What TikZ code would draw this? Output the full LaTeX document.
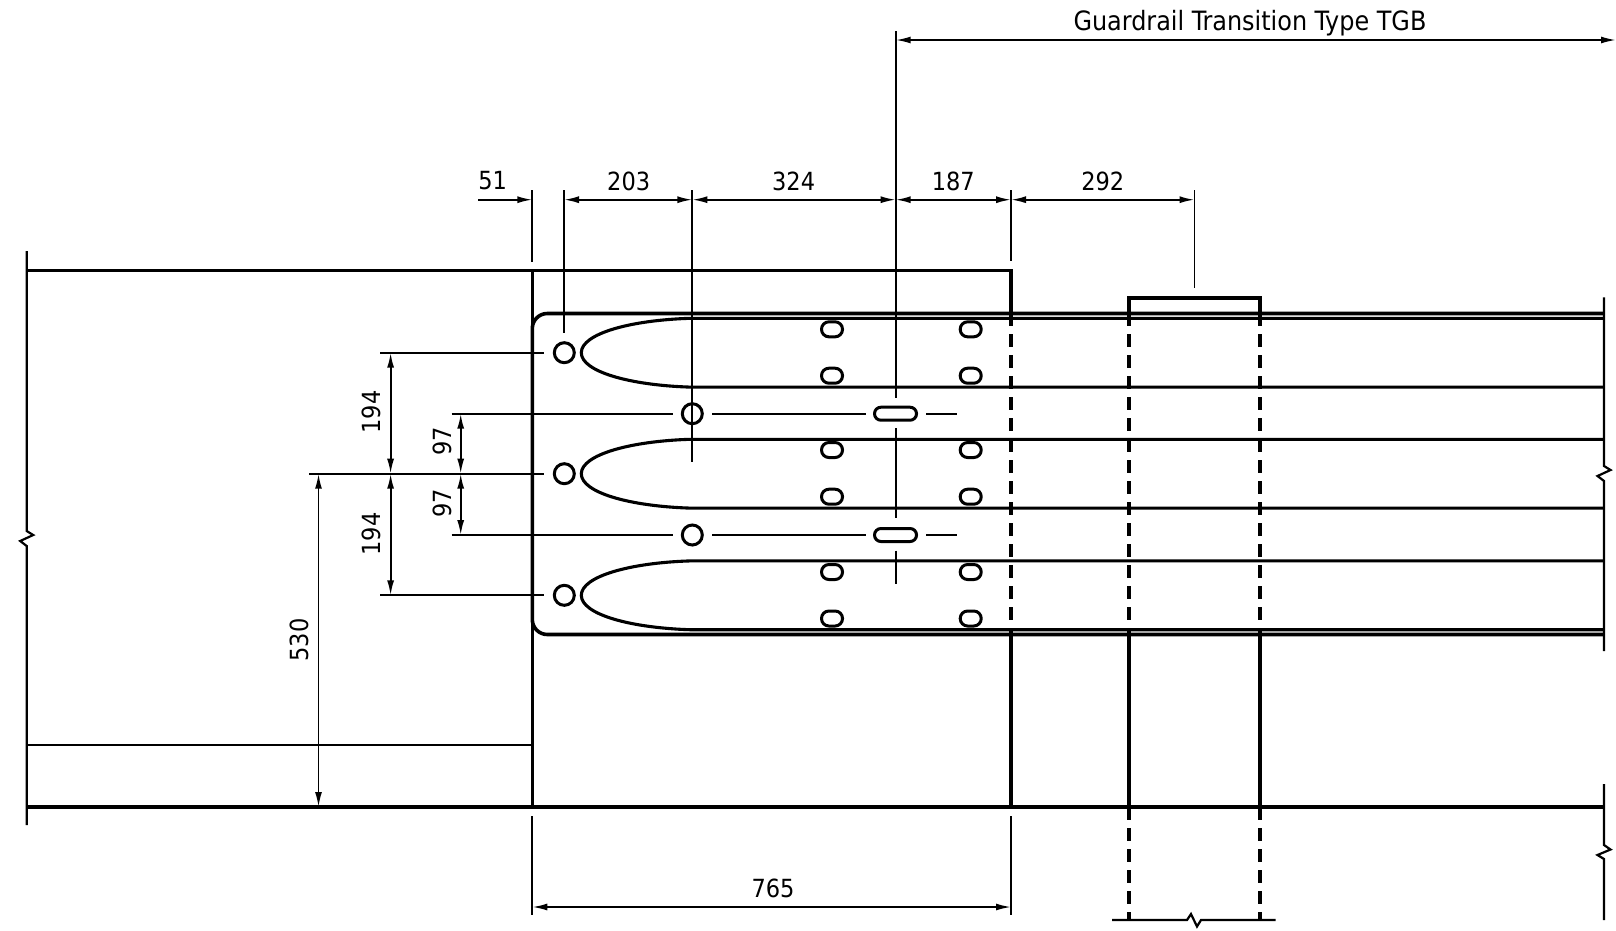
\documentclass[tikz,border=0pt]{standalone}
\usepackage{fontspec}
\setmainfont{DejaVu Sans Condensed}
\usetikzlibrary{arrows.meta}
\tikzset{
    thinline/.style = {line width=1.9pt},
    breakline/.style = {line width=2.2pt},
    heavy/.style = {line width=3.6pt},
    rail/.style = {line width=3.1pt},
    hidden/.style = {line width=3.6pt,dash pattern=on 13pt off 8pt},
    dimline/.style = {line width=1.8pt,{Latex[length=15pt,width=7pt]}-{Latex[length=15pt,width=7pt]}},
    dimend/.style = {line width=1.8pt,-{Latex[length=15pt,width=7pt]}},
    hole/.style = {line width=3pt}
}
\begin{document}
\begin{tikzpicture}[x=1pt,y=-1pt,node font = \fontsize{25}{28}\selectfont]
        \useasboundingbox (0,0) rectangle (1616,930);
        \draw [heavy] (26.7,270.5) -- (1011,270.5) -- (1011,313);
        \draw [heavy] (1011,634) -- (1011,807);
        \draw [hidden] (1011,313) -- (1011,634);
        \draw [heavy] (26.7,807) -- (1604,807);
        \draw [line width=2.8pt] (26.7,745) -- (532.3,745);
        \draw [heavy] (532.3,270.5) -- (532.3,807);
        \draw [heavy,rounded corners=15pt] (1604,313.5) -- (532.3,313.5) -- (532.3,634.5) -- (1604,634.5);
        \foreach \y in {352.7,473.7,595.3} {
            \draw [rail] (1604,\y-34.4) -- (690,\y-34.4) .. controls (630,\y-32.5) and (581.3,\y-19) .. (581.3,\y) .. controls (581.3,\y+19) and (630,\y+32.5) .. (690,\y+34.4) -- (1604,\y+34.4);
            \draw [hole] (564.3,\y) circle (10);
            \draw [thinline] (380,\y) -- (544,\y);
        }
        \foreach \x in {832,970.7}
            \foreach \y in {329.3,375.7,450,496.7,572,618.5}
                \draw [hole,rounded corners=7.4pt] (\x-10.5,\y-7.5) rectangle (\x+10.5,\y+7.5);
        \foreach \y in {413.7,535} {
            \draw [hole] (692.3,\y) circle (10);
            \draw [hole,rounded corners=6.4pt] (874.5,\y-6.5) rectangle (916.5,\y+6.5);
            \draw [thinline] (451.5,\y) -- (672.7,\y);
            \draw [thinline] (712,\y) -- (865.7,\y);
            \draw [thinline] (926,\y) -- (957.3,\y);
        }
        \foreach \x in {1128.7,1259.7} {
            \draw [heavy] (\x,634) -- (\x,820);
            \draw [hidden] (\x,313) -- (\x,634);
            \draw [hidden] (\x,828) -- (\x,920);
        }
        \draw [heavy] (1128.7,313) -- (1128.7,297.7) -- (1259.7,297.7) -- (1259.7,313);
        \draw [breakline] (26.7,251) -- (26.7,531) -- (33.2,535) -- (20.2,541) -- (26.7,546) -- (26.7,825);
        \draw [breakline] (1604,297.3) -- (1604,466) -- (1610.5,470) -- (1597.5,476) -- (1604,481) -- (1604,651);
        \draw [breakline] (1604,784) -- (1604,845) -- (1610.5,849.5) -- (1597.5,855) -- (1604,859) -- (1604,920);
        \draw [breakline] (1112,920) -- (1187,920) -- (1191,914) -- (1197,926.5) -- (1201,920) -- (1275.7,920);
        \draw [thinline] (532.3,190) -- (532.3,261.7);
        \draw [thinline] (564,190) -- (564,332.7);
        \draw [thinline] (692.3,190) -- (692.3,461.7);
        \draw [thinline] (895.7,31) -- (895.7,397.7);
        \draw [thinline] (895.7,428) -- (895.7,518.3);
        \draw [thinline] (895.7,550.7) -- (895.7,584.3);
        \draw [thinline] (1011,190) -- (1011,261);
        \draw [thinline] (1194.5,190) -- (1194.5,288);
        \draw [thinline] (309,473.7) -- (380,473.7);
        \draw [thinline] (532.3,816) -- (532.3,915);
        \draw [thinline] (1011,816) -- (1011,915);
        \draw [dimend] (478,199.7) -- (532.3,199.7);
        \foreach \a/\b in {564/692.3,692.3/895.7,895.7/1011,1011/1194.5}
            \draw [dimline] (\a,199.7) -- (\b,199.7);
        \draw [dimline] (895.7,40) -- (1616,40);
        \draw [dimline] (532.3,907) -- (1011,907);
        \draw [dimline] (390.6,352.7) -- (390.6,473.7);
        \draw [dimline] (390.6,473.7) -- (390.6,595.3);
        \draw [dimline] (460.7,413.7) -- (460.7,473.7);
        \draw [dimline] (460.7,473.7) -- (460.7,535);
        \draw [dimline] (318.5,473.7) -- (318.5,807);
        \foreach \name/\x/\text in {a/492.6/51,b/628.7/203,c/793.6/324,d/953.3/187,e/1102.7/292}
            \node (top\name) at (\x,181) {\text};
        \node [node font = \fontsize{26.6}{30}\selectfont] (title) at (1250,23) {Guardrail Transition Type TGB};
        \node (width) at (773,888) {765};
        \foreach \name/\x/\y/\text in {p/371/412/194,q/371/534/194,r/442/441/97,s/442/503/97,t/299/640/530}
            \node [rotate=90] (side\name) at (\x,\y) {\text};
    \end{tikzpicture}
\end{document}
